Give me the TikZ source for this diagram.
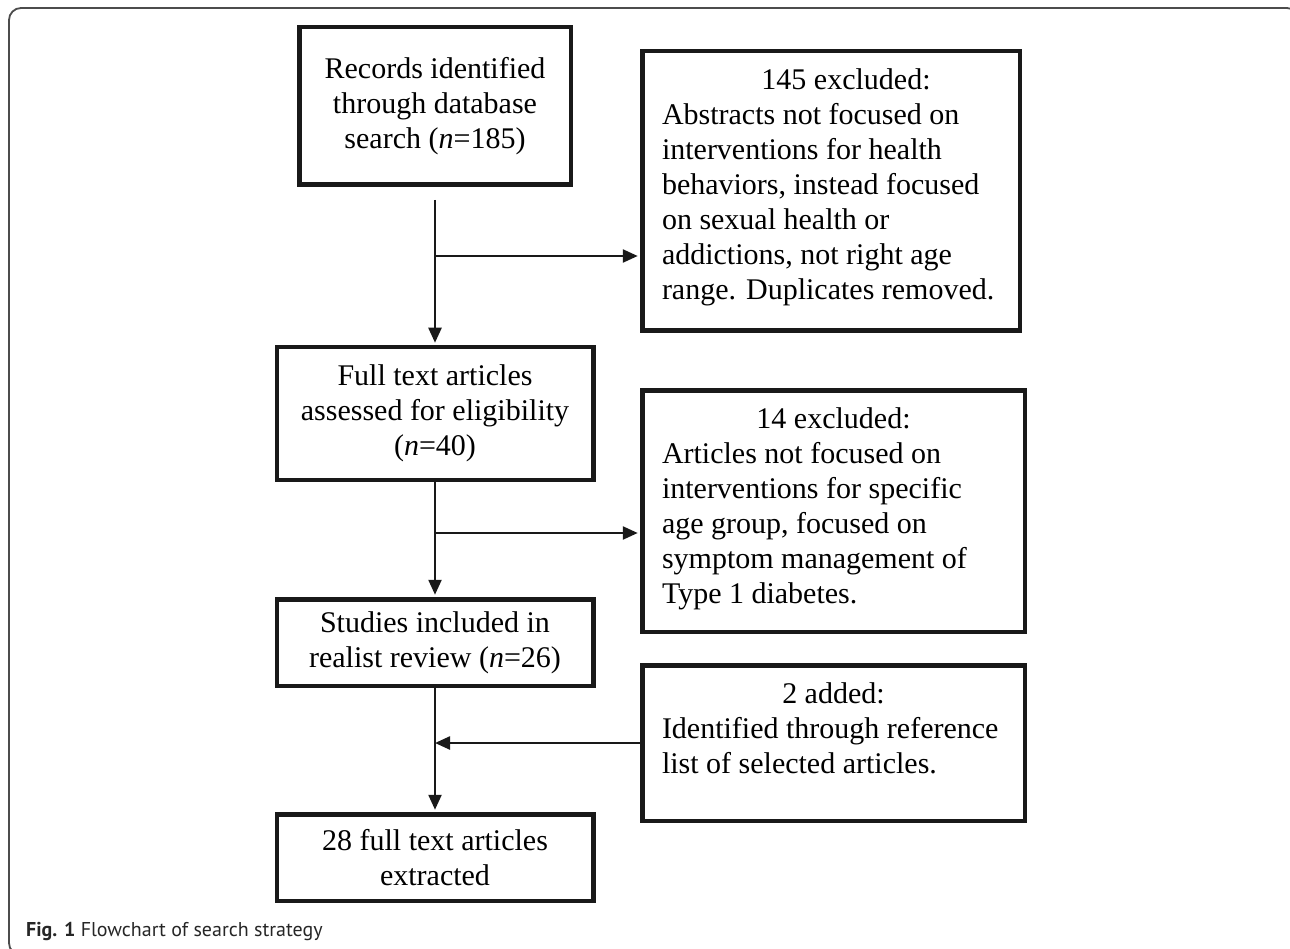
\documentclass[tikz,border=0pt]{standalone}
\usepackage{fontspec}
\setmainfont{Liberation Serif}
\newfontfamily\captionfont{PT Sans}
\usetikzlibrary{arrows.meta,positioning}

\newcommand{\notetext}[3]{\parbox[c][#1][t]{#2}{#3}}

\tikzset{
  stage/.style={draw=black!90, line width=4.5pt, align=center, inner sep=0pt,
    font=\fontsize{30}{35}\selectfont},
  note/.style={stage, align=left},
  flow/.style={draw=black!90, line width=2.4pt, -{Triangle[length=15pt,width=13pt]}},
}

\begin{document}
\begin{tikzpicture}[x=1pt, y=-1pt, node distance=1cm, on grid]
	\useasboundingbox (0,0) rectangle (1290,949);
	\clip (0,0) rectangle (1290,949);
	\draw[rounded corners=12pt, line width=1.8pt, draw=black!70] (9,8) rectangle (1299,955);

	% main column
	\node	(rec)	[stage, minimum width=271.5pt, minimum height=157.5pt] at (435,106)
		{Records identified\\through database\\search (\textit{n}=185)};
	\node	(full)	[stage, minimum width=316.5pt, minimum height=132.5pt, below=307.5pt of rec]
		{Full text articles\\assessed for eligibility\\(\textit{n}=40)};
	\node	(incl)	[stage, minimum width=316.5pt, minimum height=86.5pt, below=229pt of full]
		{Studies included in\\realist review (\textit{n}=26)};
	\node	(extr)	[stage, minimum width=316.5pt, minimum height=86.5pt, below=215pt of incl]
		{28 full text articles\\extracted};

	% side boxes
	\node	(excl1)	[note, minimum width=377.5pt, minimum height=279.5pt, right=396pt of rec, yshift=-85pt]
		{\notetext{245pt}{338pt}{{\centering\hspace*{30pt}145 excluded:\par}\raggedright
		Abstracts not focused on\\interventions for health\\behaviors, instead focused\\on sexual health or\\addictions, not right age\\range. Duplicates removed.}};
	\node	(excl2)	[note, minimum width=382.5pt, minimum height=241.5pt, right=398.5pt of full, yshift=-97.5pt]
		{\notetext{207pt}{343pt}{{\centering 14 excluded:\par}\raggedright
		Articles not focused on\\interventions for specific\\age group, focused on\\symptom management of\\Type 1 diabetes.}};
	\node	(added)	[note, minimum width=382.5pt, minimum height=155.5pt, right=398.5pt of incl, yshift=-100.5pt]
		{\notetext{121pt}{343pt}{{\centering 2 added:\par}\raggedright
		Identified through reference\\list of selected articles.}};

	\coordinate (j1) at (435,256);
	\coordinate (j2) at (435,533);

	\draw [flow, shorten <=13pt, shorten >=2.25pt] (rec) -- (full);
	\draw [flow, shorten >=2.25pt] (full) -- (incl);
	\draw [flow, shorten >=2.25pt] (incl) -- (extr);
	\draw [flow, shorten >=2.25pt] (j1) -- (j1 -| excl1.west);
	\draw [flow, shorten >=2.25pt] (j2) -- (j2 -| excl2.west);
	\draw [flow] (added.west) -- (added.west -| incl.south);

	\node	(cap)	[anchor=base west, inner sep=0pt, text=black!85,
		font=\captionfont\fontsize{20}{24}\selectfont] at (26,936)
		{\textbf{Fig. 1} Flowchart of search strategy};
\end{tikzpicture}
\end{document}
